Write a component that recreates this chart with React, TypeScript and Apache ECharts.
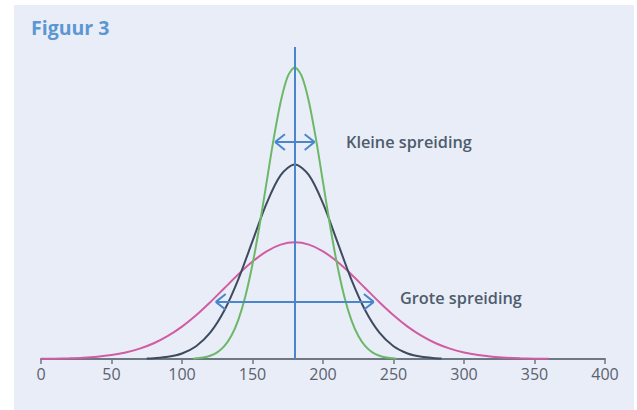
import React, { useEffect, useRef } from "react";
import * as echarts from "echarts";

// x positions (score) and curve heights
const greenX = [108, 115, 120, 125, 130, 135, 140, 145, 150, 155, 160, 165, 170, 175, 180, 185, 190, 195, 200, 205, 210, 215, 220, 225, 230, 235, 240, 245, 252];
const greenY = [0.1, 0.51, 1.11, 2.28, 4.39, 7.96, 13.53, 21.62, 32.47, 45.79, 60.65, 75.48, 88.25, 96.92, 100, 96.92, 88.25, 75.48, 60.65, 45.79, 32.47, 21.62, 13.53, 7.96, 4.39, 2.28, 1.11, 0.51, 0.1];

const navyX = [75, 80, 90, 100, 110, 120, 130, 140, 150, 160, 170, 180, 190, 200, 210, 220, 230, 240, 250, 260, 270, 280, 284];
const navyY = [0.15, 0.26, 0.74, 1.9, 4.38, 9.02, 16.63, 27.41, 40.44, 53.38, 63.06, 66.67, 63.06, 53.38, 40.44, 27.41, 16.63, 9.02, 4.38, 1.9, 0.74, 0.26, 0.15];

const pinkX = [0, 10, 20, 30, 40, 50, 60, 70, 80, 90, 100, 110, 120, 130, 140, 150, 160, 170, 180, 190, 200, 210, 220, 230, 240, 250, 260, 270, 280, 290, 300, 310, 320, 330, 340, 350, 360];
const pinkY = [0.06, 0.12, 0.24, 0.44, 0.79, 1.36, 2.25, 3.56, 5.41, 7.92, 11.12, 15.01, 19.47, 24.26, 29.05, 33.41, 36.92, 39.21, 40, 39.21, 36.92, 33.41, 29.05, 24.26, 19.47, 15.01, 11.12, 7.92, 5.41, 3.56, 2.25, 1.36, 0.79, 0.44, 0.24, 0.12, 0.06];

const xTicks = [0, 50, 100, 150, 200, 250, 300, 350, 400];
const meanX = 180;
const yTop = 107;

// arrows: [left tip x, right tip x, y]
const smallArrow = [166, 194, 74.4];
const bigArrow = [124, 236, 19.6];
const headDx = 7;
const headDy = 2.7;

const title = "Figuur 3";
const smallLabel = "Kleine spreiding";
const bigLabel = "Grote spreiding";

const zip = (xs: number[], ys: number[]) => xs.map((x, i) => [x, ys[i]]);

function arrowLines(a: number[]) {
  const [l, r, y] = a;
  return [
    [{ coord: [l, y] }, { coord: [r, y] }],
    [{ coord: [l, y] }, { coord: [l + headDx, y + headDy] }],
    [{ coord: [l, y] }, { coord: [l + headDx, y - headDy] }],
    [{ coord: [r, y] }, { coord: [r - headDx, y + headDy] }],
    [{ coord: [r, y] }, { coord: [r - headDx, y - headDy] }],
  ];
}

export default function App() {
  const ref = useRef<HTMLDivElement>(null);
  useEffect(() => {
    if (!ref.current) return;
    const chart = echarts.init(ref.current, null, { renderer: "svg" });
    const font = "'Open Sans', 'Noto Sans', sans-serif";
    const lineSeries = (data: number[][], color: string, z: number) => ({
      type: "line",
      data,
      smooth: 0.3,
      showSymbol: false,
      symbol: "none",
      lineStyle: { color, width: 2 },
      z,
      silent: true,
    });
    chart.setOption({
      animation: false,
      backgroundColor: "#ffffff",
      textStyle: { fontFamily: font },
      grid: { left: 41, right: 32, top: 47, bottom: 51, containLabel: false },
      xAxis: {
        type: "value",
        min: 0,
        max: 400,
        interval: 50,
        axisLine: { show: true, lineStyle: { color: "#6f7782", width: 2 } },
        axisTick: { show: true, length: 5, lineStyle: { color: "#6f7782", width: 1.5 } },
        axisLabel: {
          color: "#5a626d",
          fontSize: 16,
          fontFamily: font,
          margin: 7,
          formatter: (v: number) => (xTicks.includes(v) ? String(v) : ""),
        },
        splitLine: { show: false },
      },
      yAxis: {
        type: "value",
        min: 0,
        max: yTop,
        show: false,
        splitLine: { show: false },
      },
      graphic: [
        {
          type: "rect",
          shape: { x: 14, y: 5, width: 620, height: 405 },
          style: { fill: "#e9edf8" },
          z: -10,
          silent: true,
        },
        {
          type: "text",
          left: 31,
          top: 17,
          style: { text: title, fill: "#5b97d3", font: `bold 19.5px ${font}` },
        },
        {
          type: "text",
          left: 346,
          top: 134,
          style: { text: smallLabel, fill: "#4e5c6c", font: `600 16.3px ${font}` },
        },
        {
          type: "text",
          left: 400,
          top: 290,
          style: { text: bigLabel, fill: "#4e5c6c", font: `600 16.3px ${font}` },
        },
      ],
      series: [
        lineSeries(zip(pinkX, pinkY), "#d05ca2", 2),
        lineSeries(zip(navyX, navyY), "#3e4b5e", 3),
        lineSeries(zip(greenX, greenY), "#6cb868", 4),
        {
          type: "line",
          data: [],
          z: 5,
          silent: true,
          markLine: {
            silent: true,
            symbol: "none",
            animation: false,
            label: { show: false },
            lineStyle: { color: "#4a86cc", width: 2, type: "solid" },
            data: [
              [{ coord: [meanX, 0] }, { coord: [meanX, yTop] }],
              ...arrowLines(smallArrow),
              ...arrowLines(bigArrow),
            ],
          },
        },
      ],
    });
    return () => chart.dispose();
  }, []);
  return (
    <div style={{ position: "absolute", left: 0, top: 0, width: 637, height: 410 }}>
      <div ref={ref} style={{ width: 637, height: 410 }} />
    </div>
  );
}
